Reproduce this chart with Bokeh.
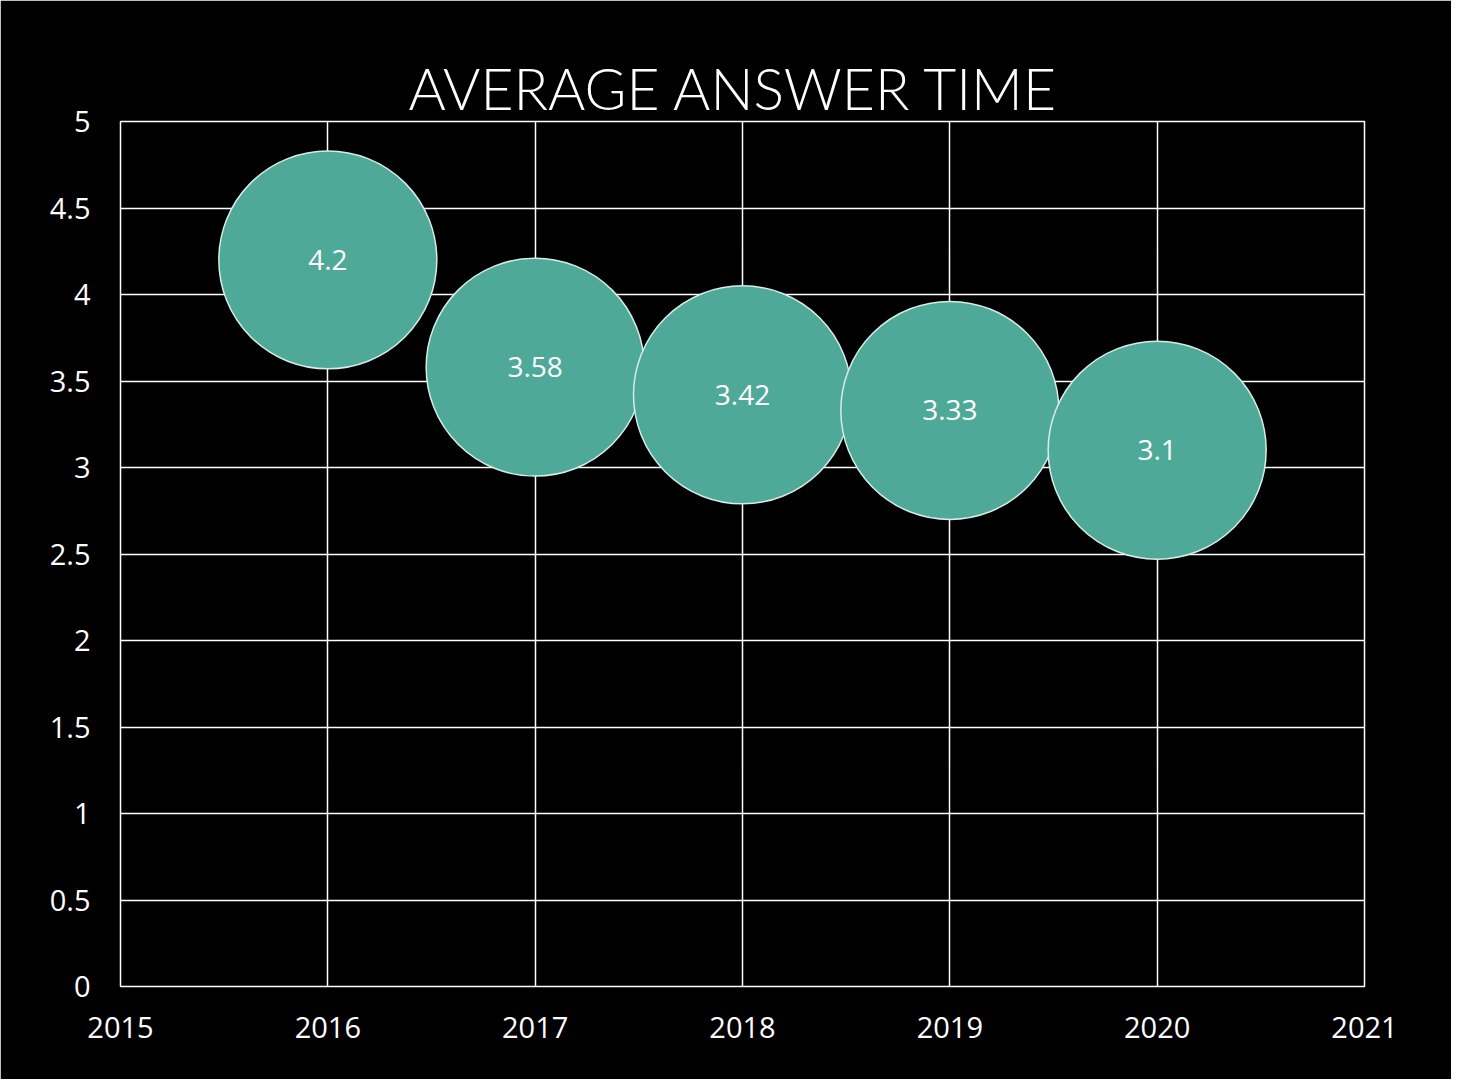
from bokeh.plotting import figure
from bokeh.models import ColumnDataSource, Range1d, FixedTicker, LabelSet
from bokeh.core.properties import value
from bokeh.embed import file_html
from bokeh.resources import INLINE

years = [2016, 2017, 2018, 2019, 2020]
avg_time = [4.2, 3.58, 3.42, 3.33, 3.1]
labels = ["4.2", "3.58", "3.42", "3.33", "3.1"]
x_ticks = [2015, 2016, 2017, 2018, 2019, 2020, 2021]
y_ticks = [0, 0.5, 1, 1.5, 2, 2.5, 3, 3.5, 4, 4.5, 5]
y_tick_labels = ["0", "0.5", "1", "1.5", "2", "2.5", "3", "3.5", "4", "4.5", "5"]

src = ColumnDataSource(dict(x=years, y=avg_time, label=labels))

p = figure(width=1451, height=1079, output_backend="svg", toolbar_location=None,
           x_range=Range1d(2015, 2021), y_range=Range1d(0, 5),
           min_border_left=120, min_border_right=87, min_border_top=121, min_border_bottom=93,
           title="AVERAGE ANSWER TIME")
p.background_fill_color = "black"
p.border_fill_color = "black"
p.outline_line_color = "white"
p.outline_line_width = 1.5

p.title.text_font = "Lato Light"
p.title.text_font_style = "normal"
p.title.text_font_size = "57px"
p.title.text_color = "white"
p.title.align = "left"
p.title.offset = 288
p.title.standoff = 0

for ax in (p.xaxis[0], p.yaxis[0]):
    ax.axis_line_color = None
    ax.major_tick_line_color = None
    ax.minor_tick_line_color = None
    ax.major_label_text_color = "white"
    ax.major_label_text_font = "Open Sans"
    ax.major_label_text_font_size = "29px"

p.xaxis[0].ticker = FixedTicker(ticks=x_ticks)
p.xaxis[0].major_label_overrides = {t: str(t) for t in x_ticks}
p.xaxis[0].major_label_standoff = 24
p.yaxis[0].ticker = FixedTicker(ticks=y_ticks)
p.yaxis[0].major_label_overrides = {t: s for t, s in zip(y_ticks, y_tick_labels)}
p.yaxis[0].major_label_standoff = 24

p.xgrid.grid_line_color = "white"
p.ygrid.grid_line_color = "white"
p.xgrid.grid_line_width = 1.5
p.ygrid.grid_line_width = 1.5
p.xgrid.ticker = FixedTicker(ticks=x_ticks)
p.ygrid.ticker = FixedTicker(ticks=y_ticks)

p.scatter("x", "y", source=src, size=218, fill_color="#4FA999",
          line_color="#D5ECE7", line_width=1.5)

lbl = LabelSet(x="x", y="y", text="label", source=src, text_color="white",
               text_font=value("Open Sans"), text_font_size="28px",
               text_align="center", text_baseline="middle")
p.add_layout(lbl)

open("out.html", "w").write(file_html(p, INLINE))
